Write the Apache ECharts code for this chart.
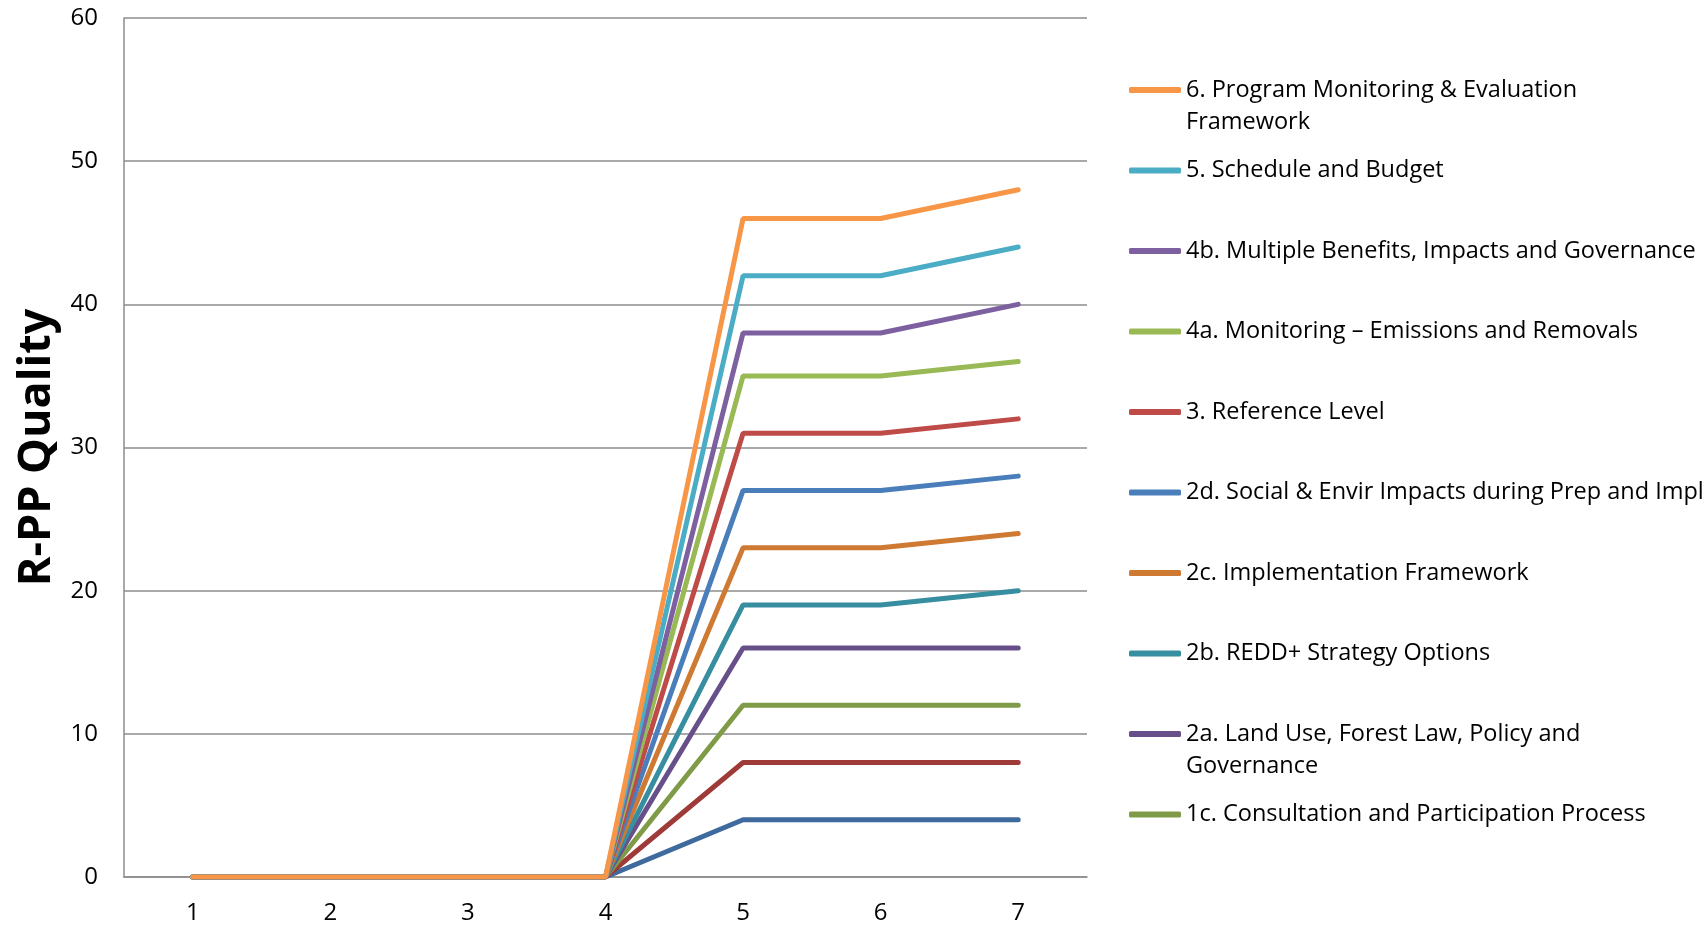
<!DOCTYPE html>
<html>
<head>
<meta charset="utf-8">
<title>R-PP Quality</title>
<script src="https://cdn.jsdelivr.net/npm/echarts@6/dist/echarts.min.js"></script>
<style>
  html, body { margin: 0; padding: 0; background: #fff; }
  #chart { width: 1702px; height: 925px; }
</style>
</head>
<body>
<div id="chart"></div>
<script>
// x axis categories
const categories = ['1', '2', '3', '4', '5', '6', '7']

// component scores per step (stacked, as in the original sheet)
const s1a = [0, 0, 0, 0, 4, 4, 4]
const s1b = [0, 0, 0, 0, 4, 4, 4]
const s1c = [0, 0, 0, 0, 4, 4, 4]
const s2a = [0, 0, 0, 0, 4, 4, 4]
const s2b = [0, 0, 0, 0, 3, 3, 4]
const s2c = [0, 0, 0, 0, 4, 4, 4]
const s2d = [0, 0, 0, 0, 4, 4, 4]
const s3 = [0, 0, 0, 0, 4, 4, 4]
const s4a = [0, 0, 0, 0, 4, 4, 4]
const s4b = [0, 0, 0, 0, 3, 3, 4]
const s5 = [0, 0, 0, 0, 4, 4, 4]
const s6 = [0, 0, 0, 0, 4, 4, 4]

const seriesNames = [
  '1a. National Readiness Management Arrangements',
  '1b. Information Sharing and Early Dialogue',
  '1c. Consultation and Participation Process',
  '2a. Land Use, Forest Law, Policy and Governance',
  '2b. REDD+ Strategy Options',
  '2c. Implementation Framework',
  '2d. Social & Envir Impacts during Prep and Impl',
  '3. Reference Level',
  '4a. Monitoring – Emissions and Removals',
  '4b. Multiple Benefits, Impacts and Governance',
  '5. Schedule and Budget',
  '6. Program Monitoring & Evaluation Framework'
]
const seriesData = [s1a, s1b, s1c, s2a, s2b, s2c, s2d, s3, s4a, s4b, s5, s6]

// y axis ticks
const yMin = 0
const yMax = 60
const yStep = 10

const colors = [
  '#3f6a9e', '#9e3b39', '#809b48', '#67508a', '#378ea0', '#cf7a33',
  '#4a7ebb', '#be4b48', '#98b954', '#7d60a0', '#4bacc6', '#f79646'
]

// legend shows the top ten components, top down
const legendNames = seriesNames.slice(2).reverse()
const wrapped = {
  '6. Program Monitoring & Evaluation Framework': ['6. Program Monitoring & Evaluation', 'Framework'],
  '2a. Land Use, Forest Law, Policy and Governance': ['2a. Land Use, Forest Law, Policy and', 'Governance']
}

const FONT = 'Open Sans'
const chart = echarts.init(document.getElementById('chart'))

const legends = legendNames.map((name, i) => {
  const y = 90 + i * 80.5
  const lines = wrapped[name]
  return {
    data: [name],
    left: 1129,
    top: lines ? y - 48 : y - 16,
    padding: 0,
    icon: 'roundRect',
    itemWidth: 52,
    itemHeight: 6,
    itemGap: 0,
    formatter: lines ? '\n' + lines[0] + '\n' + lines[1] : name,
    textStyle: {
      fontFamily: FONT,
      fontSize: 23.5,
      lineHeight: 32,
      color: '#000'
    }
  }
})

chart.setOption({
  animation: false,
  textStyle: { fontFamily: FONT },
  legend: legends,
  grid: {
    left: 124,
    right: 615,
    top: 18,
    bottom: 46
  },
  xAxis: {
    type: 'category',
    data: categories,
    boundaryGap: true,
    axisTick: { show: false },
    axisLine: { lineStyle: { color: '#8c8c8c', width: 1.5 } },
    axisLabel: {
      color: '#000',
      fontFamily: FONT,
      fontSize: 24,
      margin: 24
    }
  },
  yAxis: {
    type: 'value',
    min: yMin,
    max: yMax,
    interval: yStep,
    name: 'R-PP Quality',
    nameLocation: 'middle',
    nameGap: 64,
    nameTextStyle: {
      color: '#000',
      fontFamily: FONT,
      fontSize: 45,
      fontWeight: 'bold'
    },
    axisTick: { show: false },
    axisLine: { show: true, lineStyle: { color: '#8c8c8c', width: 1.5 } },
    splitLine: { lineStyle: { color: '#8c8c8c', width: 1.5 } },
    axisLabel: {
      color: '#000',
      fontFamily: FONT,
      fontSize: 24,
      margin: 26
    }
  },
  series: seriesNames.map((name, i) => ({
    name,
    type: 'line',
    stack: 'quality',
    data: seriesData[i],
    color: colors[i],
    showSymbol: false,
    symbol: 'none',
    lineStyle: { width: 5, cap: 'round', color: colors[i] }
  }))
})
</script>
</body>
</html>
